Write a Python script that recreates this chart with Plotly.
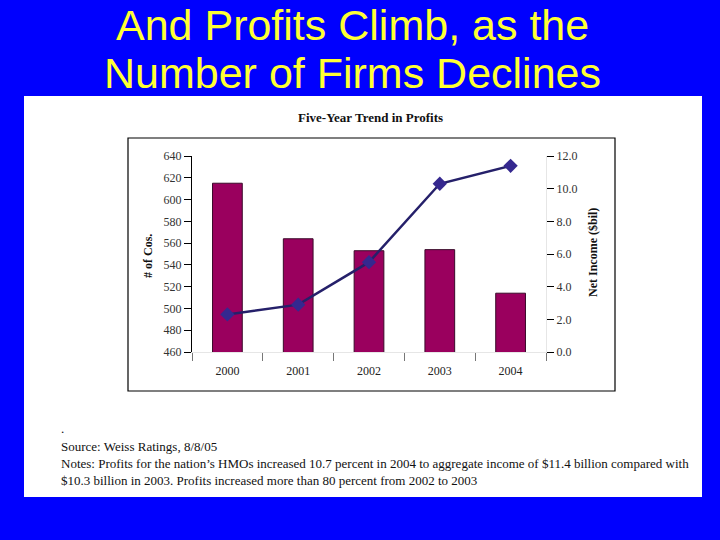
import plotly.graph_objects as go

years = ["2000", "2001", "2002", "2003", "2004"]
num_cos = [615, 564, 553, 554, 514]
net_income = [2.3, 2.9, 5.5, 10.3, 11.4]

W, H = 720, 540
def px(x): return x / W
def py(y): return 1 - y / H

SERIF = "Liberation Serif, Times New Roman, serif"
SANS = "Liberation Sans, Arial, sans-serif"

fig = go.Figure()
fig.add_trace(go.Bar(
    x=years, y=num_cos, yaxis="y", width=0.42,
    marker=dict(color="#9A005E", line=dict(color="#3a0a2a", width=1)),
    showlegend=False, hoverinfo="skip"))
fig.add_trace(go.Scatter(
    x=years, y=net_income, yaxis="y2", mode="lines+markers",
    line=dict(color="#25206A", width=2.5),
    marker=dict(symbol="diamond", size=11, color="#35288F"),
    showlegend=False, hoverinfo="skip"))

shapes = [
    dict(type="rect", xref="paper", yref="paper", x0=px(24), x1=px(702), y0=py(497), y1=py(96),
         fillcolor="white", line=dict(width=0), layer="below"),
    dict(type="rect", xref="paper", yref="paper", x0=px(128), x1=px(615), y0=py(391), y1=py(138),
         fillcolor="rgba(0,0,0,0)", line=dict(color="black", width=1.2), layer="below"),
]

note_font = dict(family=SERIF, size=13, color="#111")
annotations = [
    dict(text="And Profits Climb, as the", x=0.49, y=py(25), xref="paper", yref="paper",
         showarrow=False, font=dict(family=SANS, size=43, color="#FFFF33"), xanchor="center", yanchor="middle"),
    dict(text="Number of Firms Declines", x=0.49, y=py(73), xref="paper", yref="paper",
         showarrow=False, font=dict(family=SANS, size=43, color="#FFFF33"), xanchor="center", yanchor="middle"),
    dict(text="<b>Five-Year Trend in Profits</b>", x=px(371), y=py(117), xref="paper", yref="paper",
         showarrow=False, font=dict(family=SERIF, size=13, color="#111"), xanchor="center", yanchor="middle"),
    dict(text="<b># of Cos.</b>", x=px(148), y=py(256), xref="paper", yref="paper", textangle=-90,
         showarrow=False, font=dict(family=SERIF, size=12, color="#111"), xanchor="center", yanchor="middle"),
    dict(text="<b>Net Income ($bil)</b>", x=px(593), y=py(253), xref="paper", yref="paper", textangle=-90,
         showarrow=False, font=dict(family=SERIF, size=12, color="#111"), xanchor="center", yanchor="middle"),
    dict(text=".", x=px(59), y=py(428), xref="paper", yref="paper",
         showarrow=False, font=note_font, xanchor="left", yanchor="middle"),
    dict(text="Source: Weiss Ratings, 8/8/05", x=px(59), y=py(446), xref="paper", yref="paper",
         showarrow=False, font=note_font, xanchor="left", yanchor="middle"),
    dict(text="Notes: Profits for the nation\u2019s HMOs increased 10.7 percent in 2004 to aggregate income of $11.4 billion compared with",
         x=px(59), y=py(463), xref="paper", yref="paper",
         showarrow=False, font=note_font, xanchor="left", yanchor="middle"),
    dict(text="$10.3 billion in 2003. Profits increased more than 80 percent from 2002 to 2003",
         x=px(59), y=py(480), xref="paper", yref="paper",
         showarrow=False, font=note_font, xanchor="left", yanchor="middle"),
]

fig.update_layout(
    width=W, height=H, margin=dict(l=0, r=0, t=0, b=0, pad=0, autoexpand=False),
    paper_bgcolor="#0000FE", plot_bgcolor="rgba(0,0,0,0)",
    shapes=shapes, annotations=annotations, bargap=0.58,
    xaxis=dict(domain=[px(192), px(546)], type="category", tickson="boundaries", automargin=False,
               ticks="outside", ticklen=8, tickcolor="#777", showline=True, linecolor="#e6e6e6",
               ticklabelstandoff=8,
               showgrid=False, tickfont=dict(family=SERIF, size=12, color="#222"), anchor="y"),
    yaxis=dict(domain=[1 - 352 / H, 1 - 156 / H], range=[460, 640], dtick=20, automargin=False,
               ticks="outside", ticklen=7, tickcolor="black", showline=True, linecolor="black",
               showgrid=False, zeroline=False, tickfont=dict(family=SERIF, size=12, color="#333")),
    yaxis2=dict(overlaying="y", side="right", range=[0, 12], dtick=2, tickformat=".1f", automargin=False,
                ticks="outside", ticklen=7, tickcolor="black", showline=True, linecolor="#e6e6e6",
                showgrid=False, zeroline=False, tickfont=dict(family=SERIF, size=12, color="#333"),
                anchor="x"),
)

fig.write_html("out.html", config={"displayModeBar": False},
               post_script="document.body.style.margin='0';document.body.style.padding='0';"
                           "document.documentElement.style.background='#0000FE';")
